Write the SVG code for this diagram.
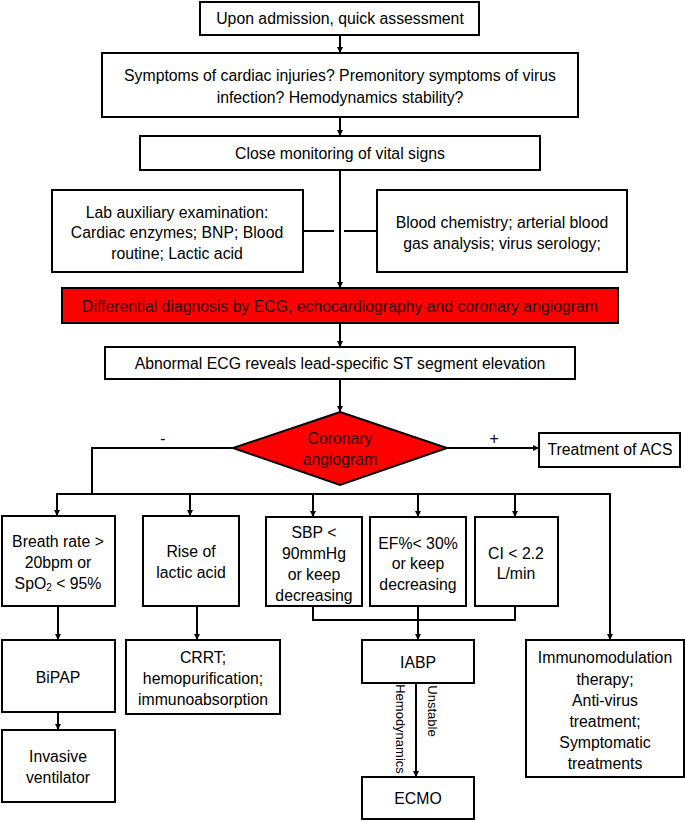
<svg xmlns="http://www.w3.org/2000/svg" width="685" height="821" viewBox="0 0 685 821">
<defs>
<style>
.box{fill:#fff;stroke:#000;stroke-width:2}
.red{fill:#ff0000;stroke:#000;stroke-width:2}
.ln{fill:none;stroke:#000;stroke-width:2}
text{font-family:"Liberation Sans",Arial,sans-serif;font-size:15.8px;fill:#000;text-anchor:middle;dominant-baseline:central}
.dk{fill:#2a0000}
.sm{font-size:13px}
</style>
<marker id="ah" viewBox="0 0 10 10" refX="10" refY="5" markerWidth="6" markerHeight="6" markerUnits="userSpaceOnUse" orient="auto">
<path d="M0,0 L10,5 L0,10 z" fill="#000"/>
</marker>
</defs>
<rect width="685" height="821" fill="#fff"/>
<g id="connectors">
<line class="ln" x1="340" y1="35" x2="340" y2="53" marker-end="url(#ah)"/>
<line class="ln" x1="340" y1="117" x2="340" y2="136" marker-end="url(#ah)"/>
<line class="ln" x1="340" y1="170" x2="340" y2="288" marker-end="url(#ah)"/>
<line class="ln" x1="303" y1="231" x2="334" y2="231"/>
<line class="ln" x1="344" y1="231" x2="377" y2="231"/>
<line class="ln" x1="340" y1="323" x2="340" y2="347" marker-end="url(#ah)"/>
<line class="ln" x1="340" y1="379" x2="340" y2="412" marker-end="url(#ah)"/>
<line class="ln" x1="447" y1="448" x2="539" y2="448" marker-end="url(#ah)"/>
<polyline class="ln" points="233,448 92,448 92,494"/>
<line class="ln" x1="57" y1="494" x2="611" y2="494"/>
<line class="ln" x1="57" y1="493" x2="57" y2="516" marker-end="url(#ah)"/>
<line class="ln" x1="190" y1="494" x2="190" y2="516" marker-end="url(#ah)"/>
<line class="ln" x1="313" y1="494" x2="313" y2="517" marker-end="url(#ah)"/>
<line class="ln" x1="418" y1="494" x2="418" y2="517" marker-end="url(#ah)"/>
<line class="ln" x1="515" y1="494" x2="515" y2="517" marker-end="url(#ah)"/>
<line class="ln" x1="610" y1="493" x2="610" y2="640" marker-end="url(#ah)"/>
<line class="ln" x1="58" y1="606" x2="58" y2="640" marker-end="url(#ah)"/>
<line class="ln" x1="58" y1="712" x2="58" y2="730" marker-end="url(#ah)"/>
<line class="ln" x1="197" y1="606" x2="197" y2="640" marker-end="url(#ah)"/>
<polyline class="ln" points="313,606 313,620 515,620 515,606"/>
<line class="ln" x1="418" y1="606" x2="418" y2="640" marker-end="url(#ah)"/>
<line class="ln" x1="416" y1="683" x2="416" y2="777" marker-end="url(#ah)"/>
<text class="sm" transform="translate(400,729) rotate(90)">Hemodynamics</text>
<text class="sm" transform="translate(432,711) rotate(90)">Unstable</text>
<text x="163" y="438">-</text>
<text x="494" y="438">+</text>
</g>
<g id="n1"><rect class="box" x="200" y="2" width="279" height="33"/><text x="340" y="18">Upon admission, quick assessment</text></g>
<g id="n2"><rect class="box" x="102" y="53" width="476" height="64"/><text x="340" y="75">Symptoms of cardiac injuries? Premonitory symptoms of virus</text><text x="340" y="97">infection? Hemodynamics stability?</text></g>
<g id="n3"><rect class="box" x="140" y="136" width="400" height="34"/><text x="340" y="153">Close monitoring of vital signs</text></g>
<g id="n4"><rect class="box" x="52" y="190" width="251" height="82"/><text x="177" y="212">Lab  auxiliary examination:</text><text x="177" y="232">Cardiac enzymes; BNP; Blood</text><text x="177" y="253">routine; Lactic acid</text></g>
<g id="n5"><rect class="box" x="377" y="190" width="250" height="82"/><text x="502" y="222">Blood chemistry; arterial blood</text><text x="502" y="243">gas analysis; virus serology;</text></g>
<g id="n6"><rect class="red" x="62" y="288" width="556" height="35"/><text class="dk" x="340" y="306">Differential diagnosis by ECG, echocardiography and coronary angiogram</text></g>
<g id="n7"><rect class="box" x="105" y="347" width="470" height="32"/><text x="340" y="363">Abnormal ECG reveals lead-specific ST segment elevation</text></g>
<g id="n8"><polygon class="red" points="340,412 447,448 340,485 233,448"/><text class="dk" x="340" y="438">Coronary</text><text class="dk" x="340" y="459">angiogram</text></g>
<g id="n9"><rect class="box" x="539" y="433" width="141" height="34"/><text x="610" y="449">Treatment of ACS</text></g>
<g id="n10"><rect class="box" x="2" y="516" width="113" height="90"/><text x="58" y="541">Breath rate &gt;</text><text x="58" y="562">20bpm or</text><text x="58" y="583">SpO<tspan font-size="10" dy="4">2</tspan><tspan dy="-4"> &lt; 95%</tspan></text></g>
<g id="n11"><rect class="box" x="143" y="516" width="96" height="90"/><text x="191" y="551">Rise of</text><text x="191" y="572">lactic acid</text></g>
<g id="n12"><rect class="box" x="266" y="517" width="96" height="89"/><text x="314" y="532">SBP &lt;</text><text x="314" y="553">90mmHg</text><text x="314" y="574">or  keep</text><text x="314" y="595">decreasing</text></g>
<g id="n13"><rect class="box" x="370" y="517" width="96" height="89"/><text x="418" y="543">EF%&lt; 30%</text><text x="418" y="563">or  keep</text><text x="418" y="584">decreasing</text></g>
<g id="n14"><rect class="box" x="475" y="517" width="83" height="89"/><text x="516" y="553">CI &lt; 2.2</text><text x="516" y="573">L/min</text></g>
<g id="n15"><rect class="box" x="2" y="640" width="113" height="72"/><text x="58" y="677">BiPAP</text></g>
<g id="n16"><rect class="box" x="2" y="730" width="113" height="72"/><text x="58" y="756">Invasive</text><text x="58" y="777">ventilator</text></g>
<g id="n17"><rect class="box" x="126" y="640" width="154" height="74"/><text x="203" y="657">CRRT;</text><text x="203" y="678">hemopurification;</text><text x="203" y="699">immunoabsorption</text></g>
<g id="n18"><rect class="box" x="362" y="640" width="112" height="43"/><text x="418" y="662">IABP</text></g>
<g id="n19"><rect class="box" x="362" y="777" width="112" height="42"/><text x="418" y="798">ECMO</text></g>
<g id="n20"><rect class="box" x="526" y="640" width="158" height="137"/><text x="605" y="657">Immunomodulation</text><text x="605" y="679">therapy;</text><text x="605" y="700">Anti-virus</text><text x="605" y="721">treatment;</text><text x="605" y="742">Symptomatic</text><text x="605" y="763">treatments</text></g>
</svg>
